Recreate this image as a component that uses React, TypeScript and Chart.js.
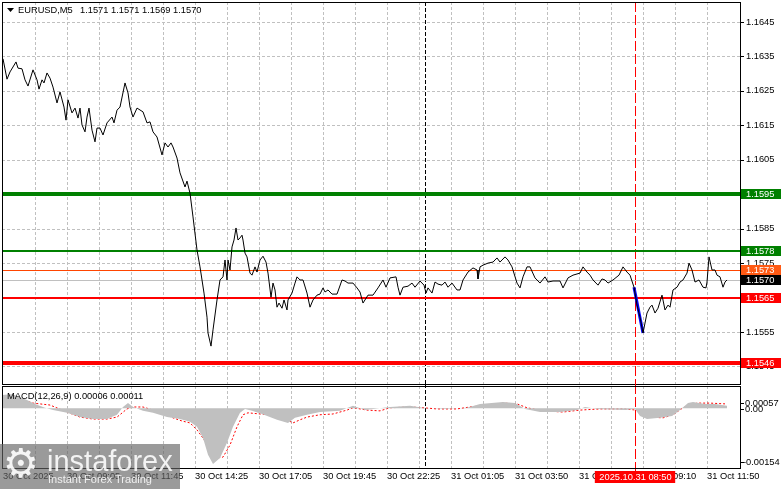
import React, { useEffect, useRef } from 'react';
import { Chart, registerables } from 'chart.js';

Chart.register(...registerables);

// ---------- data ----------
const symbolLabel = 'EURUSD,M5';
const ohlcValues = [1.1571, 1.1571, 1.1569, 1.157];

const barCount = 369;

const priceBars = [
  0.5, 2.5, 4, 7, 8, 10, 11.5, 13, 15.5, 17.5, 18.5, 20, 21, 22.5, 24, 25.5, 27.5, 29, 31, 32, 33, 35, 36.5, 38, 39, 40,
  41.5, 42.5, 43.5, 45, 46.5, 47.5, 49, 50.5, 52.5, 55, 56, 57.5, 59, 61.5, 63, 64, 65.5, 67.5, 70.5, 72.5, 74, 75.5,
  77.5, 80, 81.5, 83, 84.5, 85.5, 87.5, 89, 91.5, 92.5, 94, 95.5, 97.5, 99, 101, 102.5, 103, 104.5, 105.5, 107.5, 109,
  110.5, 111.5, 112.5, 113, 114, 115, 116, 117, 118, 119, 120, 120.5, 121.5, 122.5, 124, 125, 126.5, 127.5, 129, 130.5,
  132, 133, 134.5, 135.5, 136.5, 137.5, 138.5, 140, 141, 142.5, 143, 145, 146.5, 147.5, 149, 150.5, 152.5, 154, 155.5,
  157.5, 159, 160.5, 161.5, 163, 165, 167.5, 170, 171.5, 173, 175.5, 177.5, 179, 180.5, 183, 185.5, 188, 190.5, 192,
  194, 197, 198, 199, 200.5, 203, 205, 206.5, 209, 211, 212, 213, 215, 216.5, 218, 220, 221.5, 223, 225, 227.5, 229,
  230.5, 233, 235.5, 237.5, 238, 239, 240.5, 243, 245.5, 247.5, 249, 251.5, 253, 255, 257.5, 259, 260.5, 262.5, 264,
  266.5, 269, 271.5, 273, 275.5, 279, 280.5, 283, 285.5, 289, 290.5, 292.5, 294, 295.5, 298, 300, 301.5, 303, 305.5,
  308.5, 310.5, 312.5, 314, 316, 317.5, 319, 320.5, 322.5, 324, 325, 326.5, 328, 330, 331.5, 333, 334, 335.5, 337.5,
  339, 340.5, 342.5, 343.5, 345, 346.5, 348.5, 350.5, 352, 352.5, 353.5, 355, 356.5, 357.5, 359, 360.5, 361.5, 362.5,
];

const closePrices = [
  1.16343, 1.16284, 1.16305, 1.16334, 1.16316, 1.16314, 1.16282, 1.16264, 1.16311, 1.16282, 1.16255, 1.16282, 1.16273,
  1.16302, 1.16287, 1.16261, 1.16215, 1.16247, 1.16203, 1.16165, 1.16224, 1.16186, 1.162, 1.16171, 1.162, 1.16151,
  1.16131, 1.16174, 1.162, 1.16136, 1.16102, 1.16142, 1.16142, 1.16122, 1.16157, 1.16174, 1.16157, 1.16194, 1.16203,
  1.16273, 1.16244, 1.16203, 1.16174, 1.162, 1.16189, 1.16157, 1.1616, 1.16131, 1.16116, 1.16064, 1.16099, 1.16087,
  1.16099, 1.16087, 1.16055, 1.16012, 1.15971, 1.15988, 1.15953, 1.15884, 1.15788, 1.15739, 1.15663, 1.15593, 1.15547,
  1.15509, 1.15556, 1.15643, 1.15701, 1.1571, 1.15759, 1.15701, 1.15759, 1.1573, 1.15797, 1.15817, 1.15852, 1.15817,
  1.15823, 1.15831, 1.15817, 1.15779, 1.15768, 1.15721, 1.15715, 1.15739, 1.15724, 1.15759, 1.1577, 1.15753, 1.15721,
  1.15651, 1.15692, 1.15672, 1.15622, 1.15634, 1.15619, 1.15643, 1.15614, 1.15643, 1.15663, 1.15692, 1.1571, 1.15701,
  1.15701, 1.15663, 1.15622, 1.15643, 1.15657, 1.1566, 1.15678, 1.15666, 1.15672, 1.1566, 1.1566, 1.15701, 1.15698,
  1.15692, 1.15692, 1.15678, 1.15666, 1.15634, 1.15657, 1.15657, 1.15678, 1.15701, 1.1568, 1.15707, 1.1571, 1.1568,
  1.15657, 1.1568, 1.15683, 1.15692, 1.1568, 1.15698, 1.15686, 1.15663, 1.15678, 1.15663, 1.15695, 1.15689, 1.15686,
  1.15695, 1.1568, 1.15692, 1.15672, 1.15672, 1.15701, 1.15724, 1.15736, 1.1573, 1.15704, 1.15739, 1.15744, 1.1575,
  1.15753, 1.15765, 1.15753, 1.15768, 1.15759, 1.15739, 1.15692, 1.15678, 1.1571, 1.15739, 1.15739, 1.15707, 1.15692,
  1.1571, 1.15695, 1.15698, 1.15698, 1.15678, 1.15707, 1.15715, 1.15721, 1.15739, 1.15724, 1.15715, 1.15701, 1.15686,
  1.15704, 1.15701, 1.15692, 1.15701, 1.15715, 1.15739, 1.15724, 1.15715, 1.1568, 1.15628, 1.15593, 1.15547, 1.15605,
  1.15622, 1.15628, 1.15605, 1.15619, 1.15657, 1.15614, 1.15628, 1.15622, 1.15672, 1.1568, 1.15695, 1.15701, 1.15721,
  1.1575, 1.1573, 1.15695, 1.15701, 1.1568, 1.15678, 1.15695, 1.15768, 1.1573, 1.1573, 1.15715, 1.1571, 1.1568,
  1.15695, 1.15701,
];

const arrowBars = [316, 320.5];
const arrowPrices = [1.1568, 1.15547];

const priceMin = 1.15399;
const priceMax = 1.16508;
const priceTicks = [1.1545, 1.1555, 1.1565, 1.1575, 1.1585, 1.1595, 1.1605, 1.1615, 1.1625, 1.1635, 1.1645];

const levelPrices = [1.1595, 1.15785, 1.1573, 1.157, 1.1565, 1.1546];
const levelLabels = ['1.1595', '1.1578', '1.1573', '1.1570', '1.1565', '1.1546'];
const levelLineColors = ['#008000', '#008000', '#ff4500', '#c0c0c0', '#ff0000', '#ff0000'];
const levelBoxColors = ['#008000', '#008000', '#ff5a14', '#000000', '#ff0000', '#ff0000'];
const levelWidths = [4, 2, 1, 1, 2, 4];

const macdBars = [
  0, 5, 9, 12.5, 16.5, 21.5, 25.5, 32.5, 39, 45.5, 52.5, 57.5, 60.5, 63, 65.5, 70.5, 75.5, 82.5, 89, 94, 97.5, 100.5,
  103, 105.5, 109, 112.5, 115.5, 119, 121.5, 125, 130, 137.5, 143, 146.5, 152.5, 159, 169, 175.5, 181.5, 194, 204,
  210.5, 221.5, 232.5, 239, 250.5, 256.5, 261.5, 269, 279, 287.5, 291.5, 297.5, 311.5, 316.5, 319, 322.5, 329, 335,
  339, 343, 345.5, 351.5, 356.5, 362.5,
];
const macdValues = [
  0.00034, 0.00036, 0.00029, 0.00021, 0.00011, 0.00001, -0.00005, -0.00012, -0.00023, -0.00028, -0.00028, -0.00017,
  0.00003, 0.00013, 0.00003, -0.00007, -0.00012, -0.00023, -0.00028, -0.00035, -0.00048, -0.00077, -0.0012, -0.00144,
  -0.00128, -0.00089, -0.00048, -0.00012, -0.00002, -0.00007, -0.00015, -0.0003, -0.00038, -0.00025, -0.00017,
  -0.0001, -0.00007, 0.00006, -0.00005, 0.00003, 0.00006, 0.00001, -0.00002, 0.00001, 0.00011, 0.00016, 0.00013,
  -0.00002, -0.0001, -0.0001, -0.00005, 0.00003, -0.00002, -0.00005, -0.00002, -0.0002, -0.00028, -0.00025, -0.0002,
  -0.00005, 0.00013, 0.00016, 0.00011, 0.00011, 0.00006,
];

const signalBars = [
  1.5, 5, 9, 15.5, 24, 32.5, 39, 45.5, 52.5, 57.5, 62.5, 65.5, 70.5, 75.5, 80.5, 85.5, 90, 94, 97.5, 100.5, 104, 107.5,
  110.5, 114, 117.5, 120.5, 123, 129, 134, 140.5, 145.5, 149, 152.5, 159, 165.5, 172.5, 175.5, 182.5, 189, 194, 204,
  210.5, 217.5, 227.5, 234, 242.5, 250.5, 257.5, 262.5, 270.5, 280.5, 289, 299, 310.5, 317.5, 324, 330.5, 335.5, 340.5,
  347.5, 354, 361.5,
];
const signalValues = [
  0.00008, 0.00029, 0.00024, 0.00013, 0.00008, -0.0001, -0.00023, -0.00028, -0.00028, -0.00023, -0.00002, 0.00003,
  0.00003, -0.00005, -0.00012, -0.00025, -0.00033, -0.00038, -0.00056, -0.00077, -0.00107, -0.00128, -0.00126,
  -0.00095, -0.00048, -0.00017, -0.00012, -0.00015, -0.00017, -0.00025, -0.00038, -0.0003, -0.00023, -0.00017,
  -0.00015, -0.00005, 0.00001, -0.00005, -0.00007, 0.00001, 0.00003, 0.00001, -0.00002, -0.00002, 0.00003, 0.00008,
  0.00013, 0.00011, 0.00001, -0.00007, -0.0001, -0.00005, -0.00002, -0.00002, -0.00005, -0.00023, -0.00025, -0.00017,
  0.00001, 0.00013, 0.00013, 0.00011,
];

const macdName = 'MACD(12,26,9)';
const macdReadout = [0.00006, 0.00011];
const macdMin = -0.00154;
const macdMax = 0.00057;
const macdAxisValues = [0.00057, 0, -0.00154];
const macdAxisLabels = ['0.00057', '0.00', '-0.00154'];

const timeTickBars = [0.5, 32.5, 64.5, 96.5, 128.5, 160.5, 192.5, 224.5, 256.5, 288.5, 320.5, 352.5];
const timeTickLabels = [
  '30 Oct 2025', '30 Oct 09:05', '30 Oct 11:45', '30 Oct 14:25', '30 Oct 17:05', '30 Oct 19:45',
  '30 Oct 22:25', '31 Oct 01:05', '31 Oct 03:50', '31 Oct 06:30', '31 Oct 09:10', '31 Oct 11:50',
];
const gridBars = [
  16.5, 32.5, 48.5, 64.5, 80.5, 96.5, 112.5, 128.5, 144.5, 160.5, 176.5, 192.5, 208.5, 224.5, 240.5, 256.5, 272.5,
  288.5, 304.5, 320.5, 336.5, 352.5,
];

const dayBreakBar = 211.5;
const markerBar = 316.5;
const markerLabel = '2025.10.31 08:50';

// ---------- styles ----------
const FONT_FAMILY = '"Liberation Sans", Arial, sans-serif';
const FONT_SIZE = 9.3;
const FONT = `${FONT_SIZE}px ${FONT_FAMILY}`;
const GRID_COLOR = '#c0c0c0';

function vLine(ctx: CanvasRenderingContext2D, x: number, y1: number, y2: number) {
  ctx.beginPath();
  ctx.moveTo(x, y1);
  ctx.lineTo(x, y2);
  ctx.stroke();
}
function hLine(ctx: CanvasRenderingContext2D, x1: number, x2: number, y: number) {
  ctx.beginPath();
  ctx.moveTo(x1, y);
  ctx.lineTo(x2, y);
  ctx.stroke();
}

function drawVGrid(ctx: CanvasRenderingContext2D, xs: any, top: number, bottom: number) {
  ctx.save();
  ctx.strokeStyle = GRID_COLOR;
  ctx.lineWidth = 1;
  ctx.setLineDash([3, 2]);
  gridBars.forEach((b) => {
    const px = Math.round(xs.getPixelForValue(b)) + 0.5;
    vLine(ctx, px, top, bottom);
  });
  ctx.restore();
}

function drawMarkers(ctx: CanvasRenderingContext2D, xs: any, top: number, bottomBlack: number, bottomRed: number) {
  ctx.save();
  ctx.lineWidth = 1;
  ctx.strokeStyle = '#000000';
  ctx.setLineDash([4, 2]);
  vLine(ctx, Math.round(xs.getPixelForValue(dayBreakBar)) + 0.5, top, bottomBlack);
  ctx.strokeStyle = '#ff0000';
  ctx.setLineDash([10, 3]);
  vLine(ctx, Math.round(xs.getPixelForValue(markerBar)) + 0.5, top, bottomRed);
  ctx.restore();
}

function drawFrame(ctx: CanvasRenderingContext2D, a: any) {
  ctx.save();
  ctx.strokeStyle = '#000000';
  ctx.lineWidth = 1;
  ctx.setLineDash([]);
  ctx.strokeRect(a.left + 0.5, a.top + 0.5, a.right - a.left, a.bottom - a.top);
  ctx.restore();
}

const zeroPadding = (s: any) => {
  s.paddingTop = 0;
  s.paddingBottom = 0;
  s.paddingLeft = 0;
  s.paddingRight = 0;
};

const mainDecor = {
  id: 'mainDecor',
  beforeDatasetsDraw(chart: any) {
    const { ctx, chartArea: a, scales } = chart;
    const xs = scales.x;
    const ys = scales.y;
    drawVGrid(ctx, xs, a.top, a.bottom);
    ctx.save();
    ctx.strokeStyle = GRID_COLOR;
    ctx.lineWidth = 1;
    ctx.setLineDash([3, 2]);
    priceTicks.forEach((v) => {
      const py = Math.round(ys.getPixelForValue(v)) + 0.5;
      if (py > a.top && py < a.bottom) hLine(ctx, a.left, a.right, py);
    });
    ctx.restore();
    drawMarkers(ctx, xs, a.top, chart.height, chart.height);
    ctx.save();
    ctx.setLineDash([]);
    levelPrices.forEach((p, i) => {
      const w = levelWidths[i];
      let py = Math.round(ys.getPixelForValue(p));
      if (w % 2 === 1) py += 0.5;
      ctx.strokeStyle = levelLineColors[i];
      ctx.lineWidth = w;
      hLine(ctx, a.left, a.right, py);
    });
    ctx.restore();
  },
  afterDraw(chart: any) {
    const { ctx, chartArea: a, scales } = chart;
    const ys = scales.y;
    drawFrame(ctx, a);
    ctx.save();
    ctx.strokeStyle = '#000000';
    ctx.lineWidth = 1;
    priceTicks.forEach((v) => {
      const py = Math.round(ys.getPixelForValue(v)) + 0.5;
      if (py > a.top && py < a.bottom) hLine(ctx, a.right, a.right + 4, py);
    });
    ctx.font = FONT;
    ctx.textBaseline = 'middle';
    ctx.textAlign = 'left';
    levelPrices.forEach((p, i) => {
      const py = Math.round(ys.getPixelForValue(p));
      ctx.fillStyle = levelBoxColors[i];
      ctx.fillRect(a.right + 1, py - 5, chart.width - a.right - 1, 10);
      ctx.fillStyle = '#ffffff';
      ctx.fillText(levelLabels[i], a.right + 6, py + 0.5);
    });
    // title
    ctx.fillStyle = '#000000';
    ctx.beginPath();
    ctx.moveTo(7, 8);
    ctx.lineTo(14, 8);
    ctx.lineTo(10.5, 12);
    ctx.closePath();
    ctx.fill();
    ctx.fillText(symbolLabel, 18, 10.5);
    ctx.fillText(ohlcValues.map((v) => v.toFixed(4)).join(' '), 80, 10.5);
    ctx.restore();
  },
};

const macdDecor = {
  id: 'macdDecor',
  beforeDatasetsDraw(chart: any) {
    const { ctx, chartArea: a, scales } = chart;
    drawVGrid(ctx, scales.x, a.top, a.bottom);
    drawMarkers(ctx, scales.x, 0, a.bottom, a.bottom + 3);
  },
  afterDraw(chart: any) {
    const { ctx, chartArea: a, scales } = chart;
    const xs = scales.x;
    const ys = scales.y;
    drawFrame(ctx, a);
    ctx.save();
    ctx.font = FONT;
    ctx.fillStyle = '#000000';
    ctx.textBaseline = 'middle';
    ctx.textAlign = 'left';
    ctx.fillText(`${macdName} ${macdReadout.map((v) => v.toFixed(5)).join(' ')}`, 7, a.top + 10);
    const nudges = [17, 1, -6];
    ctx.strokeStyle = '#000000';
    ctx.lineWidth = 1;
    macdAxisValues.forEach((v, i) => {
      const py = ys.getPixelForValue(v) + nudges[i];
      ctx.fillText(macdAxisLabels[i], a.right + (i === 2 ? 3 : 5), py);
      hLine(ctx, a.right, a.right + 4, Math.round(py) + 0.5);
    });
    // marker time box
    const mx = Math.round(xs.getPixelForValue(markerBar));
    const tw = ctx.measureText(markerLabel).width + 8;
    ctx.fillStyle = '#ff0000';
    ctx.fillRect(mx - tw / 2, a.bottom + 3, tw, 12);
    ctx.fillStyle = '#ffffff';
    ctx.textAlign = 'center';
    ctx.fillText(markerLabel, mx + 0.5, a.bottom + 9.5);
    ctx.restore();
  },
};

export default function App() {
  const mainRef = useRef<HTMLCanvasElement>(null);
  const macdRef = useRef<HTMLCanvasElement>(null);

  useEffect(() => {
    document.body.style.margin = '0';
    const tickFont = { family: FONT_FAMILY, size: FONT_SIZE };

    const mainChart = new Chart(mainRef.current as HTMLCanvasElement, {
      type: 'line',
      data: {
        datasets: [
          {
            data: priceBars.map((b, i) => ({ x: b, y: closePrices[i] })),
            borderColor: '#000000',
            borderWidth: 1,
            pointRadius: 0,
            tension: 0,
            fill: false,
          },
          {
            data: arrowBars.map((b, i) => ({ x: b, y: arrowPrices[i] })),
            borderColor: '#0000ff',
            borderWidth: 3,
            pointRadius: 0,
            tension: 0,
            fill: false,
          },
        ],
      },
      options: {
        responsive: false,
        animation: false,
        events: [],
        layout: { padding: { left: 2, top: 2, right: 0, bottom: 1 } },
        plugins: { legend: { display: false }, tooltip: { enabled: false } },
        scales: {
          x: { type: 'linear', min: 0, max: barCount, display: false, afterFit: zeroPadding },
          y: {
            type: 'linear',
            position: 'right',
            min: priceMin,
            max: priceMax,
            afterFit: (s: any) => {
              s.width = 41;
              zeroPadding(s);
            },
            afterBuildTicks: (s: any) => {
              s.ticks = priceTicks.map((v) => ({ value: v }));
            },
            ticks: {
              callback: (v: any) => Number(v).toFixed(4),
              padding: 6,
              autoSkip: false,
              color: '#000000',
              font: tickFont,
            },
            grid: { display: false, drawTicks: false },
            border: { display: false },
          },
        },
      } as any,
      plugins: [mainDecor],
    });

    const macdChart = new Chart(macdRef.current as HTMLCanvasElement, {
      type: 'line',
      data: {
        datasets: [
          {
            data: macdBars.map((b, i) => ({ x: b, y: macdValues[i] })),
            borderWidth: 0,
            borderColor: 'rgba(0,0,0,0)',
            backgroundColor: '#c0c0c0',
            pointRadius: 0,
            tension: 0,
            fill: 'origin',
          },
          {
            data: signalBars.map((b, i) => ({ x: b, y: signalValues[i] })),
            borderColor: '#ff0000',
            borderWidth: 1,
            borderDash: [2, 2],
            pointRadius: 0,
            tension: 0,
            fill: false,
          },
        ],
      },
      options: {
        responsive: false,
        animation: false,
        events: [],
        layout: { padding: { left: 2, top: 2, right: 0, bottom: 0 } },
        plugins: { legend: { display: false }, tooltip: { enabled: false } },
        scales: {
          x: {
            type: 'linear',
            position: 'bottom',
            min: 0,
            max: barCount,
            afterBuildTicks: (s: any) => {
              s.ticks = timeTickBars.map((v) => ({ value: v }));
            },
            afterFit: (s: any) => {
              s.height = 21;
              zeroPadding(s);
            },
            ticks: {
              callback: (_v: any, i: number) => timeTickLabels[i],
              align: 'start',
              maxRotation: 0,
              minRotation: 0,
              autoSkip: false,
              padding: 3,
              color: '#000000',
              font: tickFont,
            },
            grid: { display: false, drawTicks: false },
            border: { display: false },
          },
          y: {
            type: 'linear',
            position: 'right',
            min: macdMin,
            max: macdMax,
            afterFit: (s: any) => {
              s.width = 41;
              zeroPadding(s);
            },
            ticks: { display: false },
            grid: { display: false, drawTicks: false },
            border: { display: false },
          },
        },
      } as any,
      plugins: [macdDecor],
    });

    return () => {
      mainChart.destroy();
      macdChart.destroy();
    };
  }, []);

  return (
    <div style={{ position: 'fixed', left: 0, top: 0, width: 781, height: 489, background: '#ffffff', overflow: 'hidden' }}>
      <canvas ref={mainRef} width={781} height={385} style={{ position: 'absolute', left: 0, top: 0 }} />
      <canvas ref={macdRef} width={781} height={105} style={{ position: 'absolute', left: 0, top: 384 }} />
      <div
        style={{
          position: 'absolute',
          left: 0,
          top: 444,
          width: 180,
          height: 45,
          background: 'rgba(100,100,100,0.65)',
          overflow: 'hidden',
          fontFamily: FONT_FAMILY,
        }}
      >
        <div
          style={{
            position: 'absolute',
            left: 3,
            top: -3,
            fontSize: 40,
            lineHeight: '44px',
            color: 'rgba(255,255,255,0.9)',
            fontFamily: '"DejaVu Sans", sans-serif',
          }}
        >
          ⚙
        </div>
        <div style={{ position: 'absolute', left: 47, top: 3, fontSize: 29, lineHeight: '29px', color: 'rgba(255,255,255,0.88)' }}>
          instaforex
        </div>
        <div style={{ position: 'absolute', left: 48, top: 30, fontSize: 11, lineHeight: '11px', color: 'rgba(255,255,255,0.85)' }}>
          Instant Forex Trading
        </div>
      </div>
    </div>
  );
}
